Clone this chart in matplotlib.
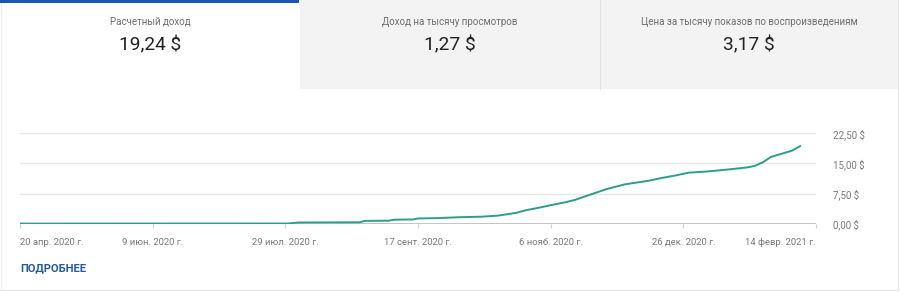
import matplotlib
matplotlib.use("Agg")
import matplotlib.pyplot as plt
import matplotlib.dates as mdates
from matplotlib.patches import Rectangle
from matplotlib.lines import Line2D
import numpy as np
import datetime as dt

plt.rcParams['font.family'] = ['Roboto', 'DejaVu Sans']

# ---- data ----
tab_titles = ["Расчетный доход", "Доход на тысячу просмотров",
              "Цена за тысячу показов по воспроизведениям"]
tab_values = ["19,24 $", "1,27 $", "3,17 $"]

dates = ["2020-04-20", "2020-07-30", "2020-08-03", "2020-08-26", "2020-08-28",
         "2020-09-06", "2020-09-08", "2020-09-15", "2020-09-17", "2020-09-25",
         "2020-10-02", "2020-10-11", "2020-10-17", "2020-10-24", "2020-10-28",
         "2020-11-01", "2020-11-06", "2020-11-12", "2020-11-15", "2020-11-19",
         "2020-11-27", "2020-12-04", "2020-12-13", "2020-12-18", "2020-12-23",
         "2020-12-28", "2021-01-04", "2021-01-12", "2021-01-19", "2021-01-22",
         "2021-01-25", "2021-01-28", "2021-02-01", "2021-02-05", "2021-02-08"]
revenue = [0.02, 0.05, 0.30, 0.35, 0.70,
           0.75, 1.00, 1.05, 1.30, 1.40,
           1.60, 1.75, 2.00, 2.70, 3.40,
           3.90, 4.60, 5.40, 5.90, 6.80,
           8.60, 9.80, 10.70, 11.40, 12.00,
           12.70, 13.00, 13.50, 14.00, 14.40,
           15.30, 16.60, 17.40, 18.20, 19.30]

xtick_dates = ["2020-04-20", "2020-06-09", "2020-07-29", "2020-09-17",
               "2020-11-06", "2020-12-26", "2021-02-14"]
xtick_labels = ["20 апр. 2020 г.", "9 июн. 2020 г.", "29 июл. 2020 г.",
                "17 сент. 2020 г.", "6 нояб. 2020 г.", "26 дек. 2020 г.",
                "14 февр. 2021 г."]
ytick_values = [0, 7.5, 15, 22.5]
ytick_labels = ["0,00 $", "7,50 $", "15,00 $", "22,50 $"]

W, H = 900, 292
fig = plt.figure(figsize=(W / 100, H / 100), dpi=100)
fig.patch.set_facecolor("white")


def fx(px):
    return px / W


def fy(py):
    return 1 - py / H


def rect(x0, y0, x1, y1, **kw):
    fig.patches.append(Rectangle((fx(x0), fy(y1)), fx(x1) - fx(x0), fy(y0) - fy(y1),
                                 transform=fig.transFigure, **kw))


def hline(x0, x1, y, **kw):
    fig.lines.append(Line2D([fx(x0), fx(x1)], [fy(y), fy(y)], transform=fig.transFigure, **kw))


def vline(x, y0, y1, **kw):
    fig.lines.append(Line2D([fx(x), fx(x)], [fy(y0), fy(y1)], transform=fig.transFigure, **kw))


# tabs
rect(300, 0, 898, 89, facecolor="#f3f3f3", edgecolor="none")
vline(600, 0, 89, color="#e2e2e2", lw=0.8)
rect(0, 0, 299, 3, facecolor="#1a56b4", edgecolor="none")
# card border
hline(0, 898, 289.5, color="#e4e4e4", lw=0.8)
vline(897.5, 0, 290, color="#e4e4e4", lw=0.8)
vline(0.5, 3, 290, color="#eeeeee", lw=0.8)

centers = [150, 450, 749]
for cx, t, v in zip(centers, tab_titles, tab_values):
    fig.text(fx(cx), fy(22), t, ha="center", va="center", fontsize=7.0, color="#6e6e6e")
    fig.text(fx(cx), fy(45), v, ha="center", va="center", fontsize=13.8, color="#222222")

fig.text(fx(20), fy(268), "ПОДРОБНЕЕ", ha="left", va="center", fontsize=8,
         fontweight="bold", color="#2258a8")

# chart axes
x_left, x_right = 20, 816
y_top, y_bot = 133.3, 223.7
ax = fig.add_axes([fx(x_left), fy(y_bot), fx(x_right) - fx(x_left), fy(y_top) - fy(y_bot)])
ax.set_facecolor("none")

d = [dt.datetime.strptime(s, "%Y-%m-%d") for s in dates]
xd = [dt.datetime.strptime(s, "%Y-%m-%d") for s in xtick_dates]

for yv in ytick_values[1:]:
    ax.axhline(yv, color="#e6e6e6", lw=0.9, zorder=1)
ax.axhline(0, color="#c4c4c4", lw=1.4, zorder=2)

ax.plot(d, revenue, color="#2c9e89", lw=1.4, zorder=3, solid_joinstyle="round")

ax.set_xlim(xd[0], xd[-1])
ax.set_ylim(0, 22.5)
for s in ax.spines.values():
    s.set_visible(False)

ax.set_xticks(xd)
ax.set_xticklabels(xtick_labels)
ax.tick_params(axis="x", length=3, width=0.8, color="#d0d0d0", labelsize=6.8,
               labelcolor="#7a7a7a", pad=7)
labels = ax.get_xticklabels()
labels[0].set_horizontalalignment("left")
labels[-1].set_horizontalalignment("right")

ax.yaxis.tick_right()
ax.set_yticks(ytick_values)
ax.set_yticklabels(ytick_labels)
ax.tick_params(axis="y", length=0, labelsize=7, labelcolor="#7a7a7a", pad=12)
for lab in ax.get_yticklabels():
    lab.set_horizontalalignment("left")

fig.savefig("out.png", dpi=100, facecolor="white")
